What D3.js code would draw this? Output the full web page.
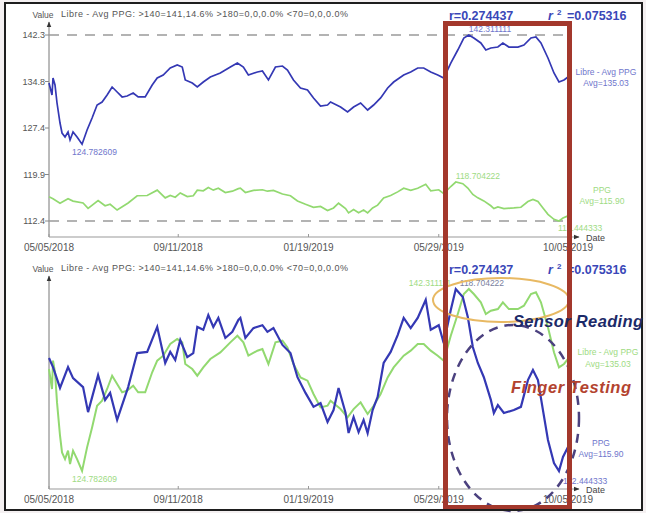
<!DOCTYPE html>
<meta charset="UTF-8">
<style>
  body { margin: 0; background: #f4f0f1; }
  svg { display: block; font-family: "Liberation Sans", Arial, sans-serif; }
</style>
<svg width="646" height="513"></svg>
<script src="https://cdn.jsdelivr.net/npm/d3@7"></script>
<script>

var startDate = new Date(2018, 4, 5),
    endDate = new Date(2019, 9, 5);

var tickDates = ["05/05/2018", "09/11/2018", "01/19/2019", "05/29/2019", "10/05/2019"];

// Libre - Avg PPG (days since 05/05/2018)
var libreDays = [0, 3, 4, 6, 8, 11, 13, 16, 19, 21,
                 24, 28, 33, 38, 43, 48, 53, 58, 63, 68,
                 73, 78, 84, 89, 96, 103, 108, 114, 121, 128,
                 133, 136, 143, 148, 154, 161, 171, 181, 188, 194,
                 199, 208, 213, 219, 226, 233, 238, 244, 251, 258,
                 264, 271, 278, 281, 291, 298, 304, 311, 318, 324,
                 331, 338, 344, 354, 361, 368, 374, 381, 388, 394,
                 401, 408, 414, 419, 424, 431, 436, 441, 448, 453,
                 459, 468, 474, 481, 486, 491, 498, 504, 509, 514, 518];
var libreValues = [134.60, 132.68, 135.41, 134.29, 131.39, 128.18, 126.57, 125.93, 126.74, 125.45,
                   126.74, 125.93, 124.782609, 127.06, 128.98, 131.07, 131.55, 132.68, 133.96, 133.16,
                   132.36, 132.52, 133.00, 132.36, 132.36, 134.29, 135.41, 135.89, 137.01, 137.49,
                   137.17, 135.09, 134.60, 133.96, 134.76, 135.57, 136.21, 137.17, 137.81, 137.17,
                   135.89, 136.37, 136.53, 135.09, 137.17, 137.33, 136.69, 135.09, 133.80, 133.48,
                   132.20, 130.91, 131.07, 131.55, 130.75, 129.95, 130.75, 131.39, 130.27, 131.07,
                   132.20, 133.80, 134.76, 135.89, 136.37, 137.01, 137.01, 136.37, 135.89, 135.41,
                   137.81, 139.90, 141.83, 142.311111, 141.83, 141.03, 139.90, 140.22, 140.38, 141.03,
                   140.38, 140.38, 140.70, 141.83, 141.99, 141.03, 138.62, 136.21, 134.76, 135.09, 135.57];

// PPG
var ppgDays = [0, 4, 11, 19, 24, 34, 39, 49, 56, 61,
               68, 79, 88, 98, 108, 116, 121, 126, 131, 138,
               144, 148, 154, 159, 164, 169, 176, 183, 189, 191,
               196, 204, 213, 218, 224, 233, 241, 248, 256, 264,
               271, 278, 284, 289, 296, 299, 304, 309, 314, 318,
               323, 328, 334, 341, 348, 354, 361, 368, 376, 381,
               389, 394, 401, 406, 413, 418, 423, 428, 434, 441,
               444, 448, 454, 464, 471, 478, 483, 488, 493, 498,
               504, 509, 513, 518];
var ppgValues = [116.33, 116.02, 115.30, 116.02, 115.64, 115.33, 114.47, 115.74, 114.89, 115.13,
                 114.20, 115.33, 116.50, 116.54, 117.40, 116.16, 116.54, 116.26, 116.95, 116.36,
                 116.50, 117.40, 117.30, 117.81, 117.40, 117.71, 117.02, 117.23, 117.64, 117.71,
                 117.02, 117.36, 117.46, 117.23, 117.36, 116.78, 116.50, 115.67, 115.13, 114.65,
                 114.78, 114.13, 114.54, 115.30, 114.44, 113.75, 114.30, 113.78, 114.20, 113.75,
                 114.54, 114.99, 116.16, 116.54, 117.12, 117.71, 117.36, 117.71, 118.33, 117.30,
                 117.46, 116.84, 117.98, 118.704222, 118.43, 117.74, 116.71, 116.16, 115.67, 114.89,
                 114.44, 114.71, 114.44, 114.54, 114.65, 115.57, 115.92, 115.57, 114.54, 113.51,
                 112.72, 112.444333, 112.93, 113.27];

var titleText = "Libre - Avg PPG: >140=141,14.6%  >180=0,0,0.0%  <70=0,0,0.0%";
var rText = "r=0.274437", r2Text = "=0.075316";
var libreName = "Libre - Avg PPG", libreAvg = "Avg=135.03";
var ppgName = "PPG", ppgAvg = "Avg=115.90";

var svg = d3.select("svg");
var parseDate = d3.timeParse("%m/%d/%Y");
var fmt6 = d3.format(".6f");

var libre = libreDays.map(function(d, i) { return {date: d3.timeDay.offset(startDate, d), value: libreValues[i]}; });
var ppg = ppgDays.map(function(d, i) { return {date: d3.timeDay.offset(startDate, d), value: ppgValues[i]}; });

var x = d3.scaleTime().domain([startDate, endDate]).range([49, 568]);

var BLUE = "#3438b4", GREEN = "#92d970", LBLUE = "#6f76cc", LGREEN = "#9edb83";

// frame
svg.append("rect").attr("x", 5).attr("y", 3).attr("width", 637).attr("height", 507)
  .attr("fill", "#fff").attr("stroke", "#1e1e1e").attr("stroke-width", 2);

svg.append("defs").append("marker")
    .attr("id", "arr").attr("viewBox", "0 0 10 10").attr("refX", 9).attr("refY", 5)
    .attr("markerWidth", 6).attr("markerHeight", 6).attr("orient", "auto")
  .append("path").attr("d", "M0,1L10,5L0,9z").attr("fill", "#333");

function frame(top, axisY, titleY) {
  var g = svg.append("g");
  g.append("line").attr("x1", 49).attr("x2", 49).attr("y1", axisY).attr("y2", top)
    .attr("stroke", "#777").attr("marker-end", "url(#arr)");
  g.append("line").attr("x1", 49).attr("x2", 579).attr("y1", axisY).attr("y2", axisY)
    .attr("stroke", "#999").attr("marker-end", "url(#arr)");
  g.append("text").attr("x", 43).attr("y", titleY).attr("text-anchor", "middle")
    .attr("font-size", 8.5).attr("fill", "#555").text("Value");
  g.append("text").attr("x", 61).attr("y", titleY - 1).attr("font-size", 9)
    .attr("textLength", 287).attr("fill", "#555").text(titleText);
  g.append("text").attr("x", 586).attr("y", axisY + 4).attr("font-size", 9)
    .attr("fill", "#444").text("Date");
  tickDates.forEach(function(s) {
    var xx = x(parseDate(s));
    g.append("line").attr("x1", xx).attr("x2", xx).attr("y1", axisY).attr("y2", axisY - 3).attr("stroke", "#999");
    g.append("text").attr("x", xx).attr("y", axisY + 14).attr("text-anchor", "middle")
      .attr("font-size", 10).attr("fill", "#555").text(s);
  });
  // r and r^2
  g.append("text").attr("x", 449).attr("y", titleY + 2).attr("font-size", 12.5).attr("font-weight", "bold")
    .attr("fill", "#3a47b8").text(rText);
  g.append("text").attr("x", 548).attr("y", titleY + 2).attr("font-size", 12.5).attr("font-weight", "bold")
    .attr("font-style", "italic").attr("fill", "#3a47b8").text("r");
  g.append("text").attr("x", 557).attr("y", titleY - 3).attr("font-size", 8).attr("font-weight", "bold")
    .attr("fill", "#3a47b8").text("2");
  g.append("text").attr("x", 567).attr("y", titleY + 2).attr("font-size", 12.5).attr("font-weight", "bold")
    .attr("fill", "#3a47b8").text(r2Text);
  return g;
}

function label(g, px, py, txt, color, anchor) {
  g.append("text").attr("x", px).attr("y", py).attr("font-size", 8.5)
    .attr("text-anchor", anchor || "start").attr("fill", color).text(txt);
}

// ---- top chart: common scale ----
var allVals = libreValues.concat(ppgValues);
var yMin = d3.min(allVals), yMax = d3.max(allVals);
var yTop = d3.scaleLinear().domain([yMin, yMax]).range([221, 35]);
var gTop = frame(22, 237, 18);

d3.range(5).map(function(i) { return yMin + i * (yMax - yMin) / 4; }).forEach(function(v) {
  gTop.append("line").attr("x1", 45).attr("x2", 49).attr("y1", yTop(v)).attr("y2", yTop(v)).attr("stroke", "#888");
  gTop.append("text").attr("x", 45).attr("y", yTop(v) + 3).attr("text-anchor", "end")
    .attr("font-size", 9).attr("fill", "#555").text(d3.format(".1f")(v));
});
[yMin, yMax].forEach(function(v) {
  gTop.append("line").attr("x1", 49).attr("x2", 570).attr("y1", yTop(v)).attr("y2", yTop(v))
    .attr("stroke", "#9a9a9a").attr("stroke-width", 1.5).attr("stroke-dasharray", "10,8");
});

var lineTop = d3.line().x(function(d) { return x(d.date); }).y(function(d) { return yTop(d.value); });
gTop.append("path").datum(ppg).attr("d", lineTop).attr("fill", "none").attr("stroke", GREEN).attr("stroke-width", 1.7);
gTop.append("path").datum(libre).attr("d", lineTop).attr("fill", "none").attr("stroke", BLUE).attr("stroke-width", 1.7);

var lMax = libre[d3.maxIndex(libre, function(d) { return d.value; })],
    lMin = libre[d3.minIndex(libre, function(d) { return d.value; })],
    pMax = ppg[d3.maxIndex(ppg, function(d) { return d.value; })],
    pMin = ppg[d3.minIndex(ppg, function(d) { return d.value; })];
var xEnd = x(endDate);

label(gTop, x(lMax.date), yTop(lMax.value) - 3, fmt6(lMax.value), LBLUE);
label(gTop, x(lMin.date) - 10, yTop(lMin.value) + 11, fmt6(lMin.value), LBLUE);
label(gTop, x(pMax.date), yTop(pMax.value) - 3, fmt6(pMax.value), LGREEN);
label(gTop, x(pMin.date) - 1, yTop(pMin.value) + 10, fmt6(pMin.value), LGREEN);
label(gTop, xEnd + 38, 75, libreName, LBLUE, "middle");
label(gTop, xEnd + 38, 86, libreAvg, LBLUE, "middle");
label(gTop, xEnd + 34, 193, ppgName, LGREEN, "middle");
label(gTop, xEnd + 34, 204, ppgAvg, LGREEN, "middle");

// ---- bottom chart: each series on its own scale ----
var gBot = frame(276, 489, 272);
var yLib = d3.scaleLinear().domain(d3.extent(libreValues)).range([471, 289]);
var yPpg = d3.scaleLinear().domain(d3.extent(ppgValues)).range([471, 289]);

gBot.append("path").datum(libre)
  .attr("d", d3.line().x(function(d) { return x(d.date); }).y(function(d) { return yLib(d.value); }))
  .attr("fill", "none").attr("stroke", GREEN).attr("stroke-width", 2);
gBot.append("path").datum(ppg)
  .attr("d", d3.line().x(function(d) { return x(d.date); }).y(function(d) { return yPpg(d.value); }))
  .attr("fill", "none").attr("stroke", BLUE).attr("stroke-width", 2.2);

label(gBot, x(lMax.date) - 60, yLib(lMax.value) - 3, fmt6(lMax.value), LGREEN);
label(gBot, x(pMax.date) + 4, yPpg(pMax.value) - 3, fmt6(pMax.value), "#7a7f9e");
label(gBot, x(lMin.date) - 10, yLib(lMin.value) + 11, fmt6(lMin.value), LGREEN);
label(gBot, x(pMin.date) + 4, yPpg(pMin.value) + 13, fmt6(pMin.value), LBLUE);
label(gBot, xEnd + 40, 355, libreName, LGREEN, "middle");
label(gBot, xEnd + 40, 367, libreAvg, LGREEN, "middle");
label(gBot, xEnd + 33, 446, ppgName, LBLUE, "middle");
label(gBot, xEnd + 33, 457, ppgAvg, LBLUE, "middle");

// ---- annotations ----
svg.append("ellipse").attr("cx", 501).attr("cy", 300).attr("rx", 68).attr("ry", 22)
  .attr("fill", "none").attr("stroke", "#e8b963").attr("stroke-width", 2);
svg.append("ellipse").attr("cx", 513).attr("cy", 418).attr("rx", 66).attr("ry", 93)
  .attr("fill", "none").attr("stroke", "#4b417f").attr("stroke-width", 2.5).attr("stroke-dasharray", "9,7");
svg.append("rect").attr("x", 445.5).attr("y", 23.5).attr("width", 124).attr("height", 484)
  .attr("fill", "none").attr("stroke", "#a3382c").attr("stroke-width", 5);
svg.append("text").attr("x", 513).attr("y", 327).attr("font-size", 16.5).attr("font-weight", "bold")
  .attr("font-style", "italic").attr("textLength", 130).attr("fill", "#1c2a68").text("Sensor Reading");
svg.append("text").attr("x", 511).attr("y", 393).attr("font-size", 16.5).attr("font-weight", "bold")
  .attr("font-style", "italic").attr("textLength", 120).attr("fill", "#b3432f").text("Finger Testing");
svg.append("line").attr("x1", 5).attr("x2", 642).attr("y1", 510).attr("y2", 510)
  .attr("stroke", "#1e1e1e").attr("stroke-width", 2);
</script>
